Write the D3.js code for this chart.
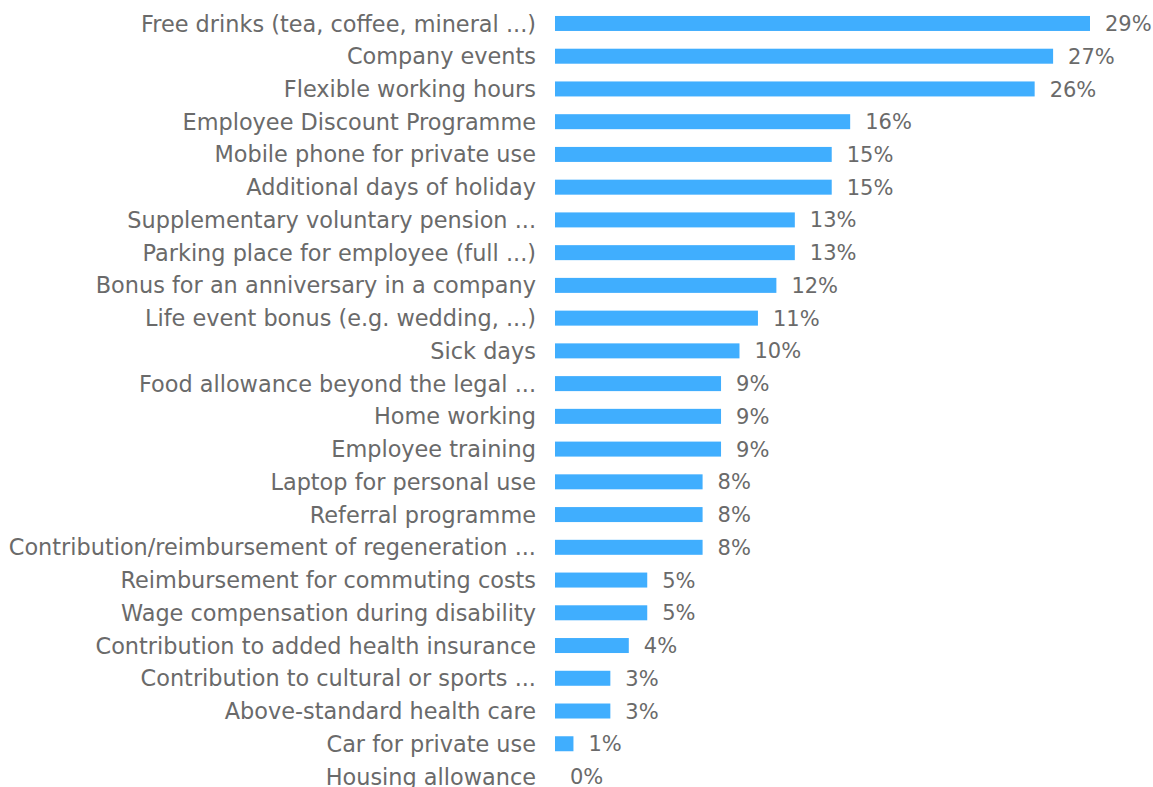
<!DOCTYPE html>
<html><head><meta charset="utf-8">
<script src="https://cdn.jsdelivr.net/npm/d3@7/dist/d3.min.js"></script>
<style>body{margin:0;background:#fff;}svg{display:block;}</style>
</head><body>
<svg id="chart" width="1153" height="787"></svg>
<script>
const categories = [
  "Free drinks (tea, coffee, mineral ...)",
  "Company events",
  "Flexible working hours",
  "Employee Discount Programme",
  "Mobile phone for private use",
  "Additional days of holiday",
  "Supplementary voluntary pension ...",
  "Parking place for employee (full ...)",
  "Bonus for an anniversary in a company",
  "Life event bonus (e.g. wedding, ...)",
  "Sick days",
  "Food allowance beyond the legal ...",
  "Home working ",
  "Employee training",
  "Laptop for personal use",
  "Referral programme",
  "Contribution/reimbursement of regeneration ...",
  "Reimbursement for commuting costs",
  "Wage compensation during disability",
  "Contribution to added health insurance",
  "Contribution to cultural or sports ...",
  "Above-standard health care",
  "Car for private use",
  "Housing allowance"
];
const values = [29, 27, 26, 16, 15, 15, 13, 13, 12, 11, 10, 9, 9, 9, 8, 8, 8, 5, 5, 4, 3, 3, 1, 0];
const valueLabels = values.map(v => v + "%");

const svg = d3.select("#chart");
const x0 = 555;
const x = d3.scaleLinear().domain([0, 29]).range([x0, 1090]);
const step = 32.74;
const y = d3.scaleBand().domain(categories)
  .range([7.1, 7.1 + categories.length * step])
  .paddingInner(0.542).paddingOuter(0.271);

const rows = svg.selectAll("g.row").data(categories).join("g").attr("class", "row");

rows.append("rect")
  .attr("x", x(0))
  .attr("y", d => y(d))
  .attr("width", (d, i) => x(values[i]) - x(0))
  .attr("height", y.bandwidth())
  .attr("fill", "#40aefe");

const font = "DejaVu Sans, sans-serif";
rows.append("text")
  .attr("x", x0 - 19)
  .attr("y", d => y(d) + y.bandwidth() / 2)
  .attr("dy", "0.36em")
  .attr("text-anchor", "end")
  .attr("font-family", font)
  .attr("font-size", 22.4)
  .attr("fill", "#6a6a6a")
  .text(d => d);

rows.append("text")
  .attr("x", (d, i) => x(values[i]) + 15)
  .attr("y", d => y(d) + y.bandwidth() / 2)
  .attr("dy", "0.36em")
  .attr("font-family", font)
  .attr("font-size", 21)
  .attr("fill", "#6a6a6a")
  .text((d, i) => valueLabels[i]);
</script>
</body></html>
